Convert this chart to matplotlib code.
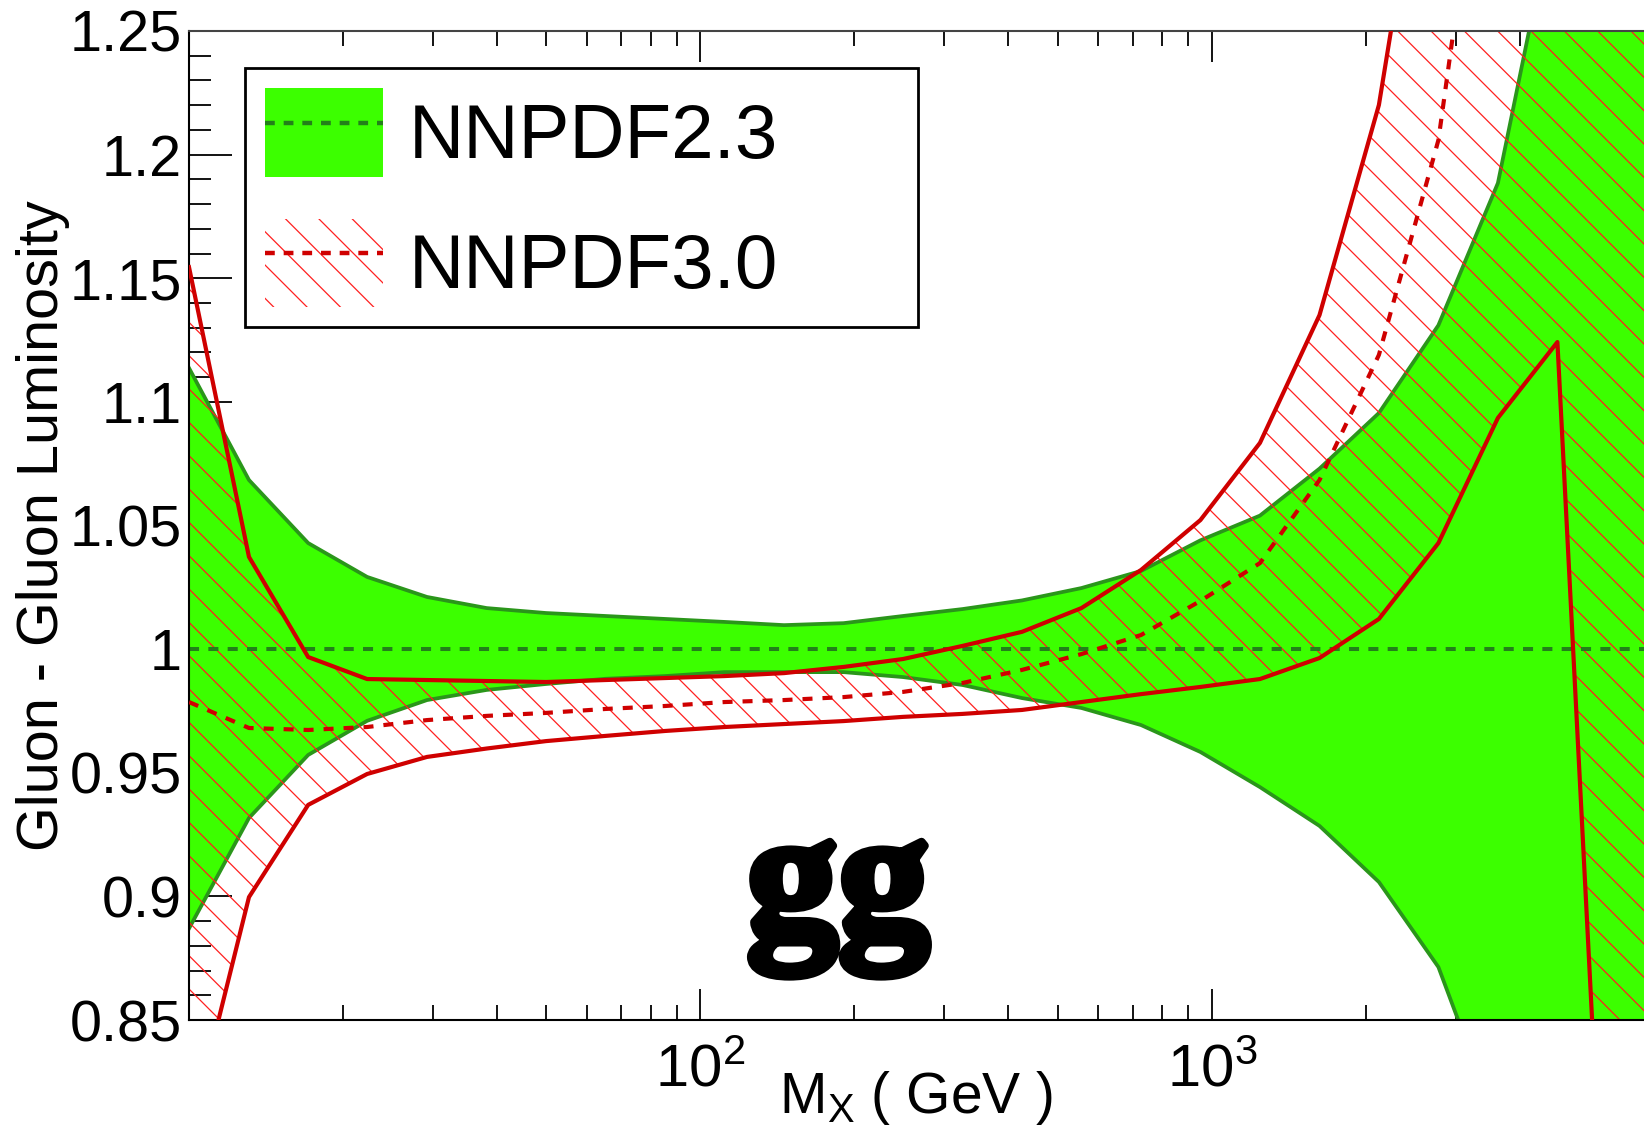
import matplotlib
matplotlib.use("Agg")
import matplotlib.pyplot as plt
from matplotlib.patches import Patch
from matplotlib.lines import Line2D
from matplotlib.ticker import FixedLocator, FixedFormatter, NullFormatter, MultipleLocator, FuncFormatter
import matplotlib.patheffects as pe

plt.rcParams["font.family"] = ["Liberation Sans", "DejaVu Sans"]
plt.rcParams["mathtext.fontset"] = "custom"
plt.rcParams["mathtext.rm"] = "Liberation Sans"
plt.rcParams["mathtext.it"] = "Liberation Sans:italic"
plt.rcParams["mathtext.bf"] = "Liberation Sans:bold"
plt.rcParams["hatch.linewidth"] = 0.9

# Invariant mass grid (GeV)
mass = [10.0, 13.1, 17.1, 22.3, 29.2, 38.2, 49.9, 65.2, 85.3, 111.5, 145.7,
        190.5, 249.0, 325.5, 425.5, 556.0, 727.0, 950.0, 1242.0, 1624.0,
        2122.0, 2774.0, 3626.0, 4740.0, 6196.0, 8100.0]

# NNPDF2.3 band (ratio to its own central value)
nn23_central = 1.0
nn23_hi = [1.1137, 1.0684, 1.0429, 1.0292, 1.0211, 1.0166, 1.0146, 1.0134,
           1.0122, 1.0110, 1.0097, 1.0105, 1.0134, 1.0162, 1.0197, 1.0247,
           1.0316, 1.0440, 1.0540, 1.0730, 1.0955, 1.1310, 1.1885, 1.3060,
           1.4200, 1.5500]
nn23_lo = [0.8870, 0.9317, 0.9572, 0.9710, 0.9794, 0.9835, 0.9859, 0.9880,
           0.9891, 0.9907, 0.9907, 0.9907, 0.9887, 0.9855, 0.9802, 0.9762,
           0.9693, 0.9584, 0.9442, 0.9285, 0.9058, 0.8714, 0.8070, 0.7200,
           0.6000, 0.5000]

# NNPDF3.0 band
nn30_hi = [1.1545, 1.0373, 0.9968, 0.9879, 0.9875, 0.9871, 0.9867, 0.9875,
           0.9883, 0.9891, 0.9903, 0.9928, 0.9960, 1.0013, 1.0070, 1.0166,
           1.0320, 1.0522, 1.0834, 1.1351, 1.2201, 1.3680, 1.5000, 1.6000,
           1.7000, 1.8000]
nn30_lo = [0.8020, 0.8997, 0.9370, 0.9495, 0.9564, 0.9598, 0.9628, 0.9649,
           0.9669, 0.9685, 0.9697, 0.9709, 0.9726, 0.9738, 0.9754, 0.9786,
           0.9818, 0.9847, 0.9879, 0.9964, 1.0122, 1.0429, 1.0935, 1.1242,
           0.6540, 0.4500]
nn30_cv = [0.9786, 0.9681, 0.9673, 0.9685, 0.9713, 0.9730, 0.9742, 0.9758,
           0.9770, 0.9786, 0.9794, 0.9806, 0.9827, 0.9863, 0.9916, 0.9980,
           1.0057, 1.0195, 1.0348, 1.0684, 1.1190, 1.2059, 1.3800, 1.5000,
           1.3000, 1.2000]

x_major = [100, 1000]
x_major_labels = ["$10^{2}$", "$10^{3}$"]
x_minor = [20, 30, 40, 50, 60, 70, 80, 90,
           200, 300, 400, 500, 600, 700, 800, 900,
           2000, 3000, 4000, 5000, 6000]
y_major = [0.85, 0.90, 0.95, 1.00, 1.05, 1.10, 1.15, 1.20, 1.25]

GREEN = "#3cff00"
GREEN_EDGE = "#2a961a"
GREEN_DASH = "#23801a"
RED = "#cf0000"
HATCH_RED = "#ff2020"

W, H = 1644, 1129
fig = plt.figure(figsize=(W / 100, H / 100), dpi=100)
ax = fig.add_axes([189 / W, 1 - 1020 / H, 1 - 189 / W, (1020 - 31) / H])
ax.set_xscale("log")
ax.set_xlim(10, 7000)
ax.set_ylim(0.85, 1.25)

# NNPDF2.3 band
ax.fill_between(mass, nn23_lo, nn23_hi, facecolor=GREEN, edgecolor="none",
                linewidth=0, zorder=2)
ax.plot(mass, nn23_hi, color=GREEN_EDGE, lw=2.7, zorder=2.1)
ax.plot(mass, nn23_lo, color=GREEN_EDGE, lw=2.7, zorder=2.1)

# NNPDF3.0 hatched band
ax.fill_between(mass, nn30_lo, nn30_hi, facecolor="none", edgecolor=HATCH_RED,
                hatch="\\", linewidth=0, zorder=2.2)
ax.axhline(nn23_central, color=GREEN_DASH, lw=2.9, ls=(0, (2.5, 2.3)), zorder=2.3)
ax.plot(mass, nn30_hi, color=RED, lw=3.0, zorder=3)
ax.plot(mass, nn30_lo, color=RED, lw=3.0, zorder=3)
ax.plot(mass, nn30_cv, color=RED, lw=3.0, ls=(0, (2.4, 2.4)), zorder=3)

# Axes styling
ax.spines["right"].set_visible(False)
for s in ("left", "bottom", "top"):
    ax.spines[s].set_linewidth(1.5)
    ax.spines[s].set_color("black")
ax.spines["top"].set_color("#444444")

ax.xaxis.set_major_locator(FixedLocator(x_major))
ax.xaxis.set_major_formatter(FixedFormatter(x_major_labels))
ax.xaxis.set_minor_locator(FixedLocator(x_minor))
ax.xaxis.set_minor_formatter(NullFormatter())
ax.yaxis.set_major_locator(FixedLocator(y_major))
ax.yaxis.set_minor_locator(MultipleLocator(0.01))
ax.yaxis.set_major_formatter(FuncFormatter(lambda v, p: f"{v:g}"))

ax.tick_params(axis="x", which="both", direction="in", top=True, bottom=True,
               width=1.3, colors="black")
ax.tick_params(axis="x", which="major", length=22, labelsize=43, pad=17)
ax.tick_params(axis="x", which="minor", length=11)
ax.tick_params(axis="y", which="both", direction="in", left=True, right=False,
               width=1.3)
ax.tick_params(axis="y", which="major", length=31, labelsize=41.5, pad=5)
ax.tick_params(axis="y", which="minor", length=16)

ax.set_xlabel("M$_{\\rm X}$ ( GeV )", fontsize=41)
ax.xaxis.set_label_coords(0.5, -0.05)
ax.set_ylabel("Gluon - Gluon Luminosity", fontsize=41.5)
ax.yaxis.set_label_coords(-0.0815, 0.5)

# Channel tag
fig.text(838 / W, 1 - 936 / H, "gg", ha="center", va="baseline",
         fontsize=132, fontweight="bold", family="Liberation Serif",
         path_effects=[pe.withStroke(linewidth=6, foreground="black")],
         zorder=10)

# Legend
h23 = (Patch(facecolor=GREEN, edgecolor="none", linewidth=0),
       Line2D([], [], color=GREEN_DASH, lw=3.2, ls=(0, (2.2, 2.0))))
h30 = (Patch(facecolor="none", edgecolor=HATCH_RED, hatch="\\", linewidth=0),
       Line2D([], [], color=RED, lw=3.2, ls=(0, (2.2, 2.0))))
leg = ax.legend([h23, h30], ["NNPDF2.3", "NNPDF3.0"], loc="upper left",
                bbox_to_anchor=(245 / W, 1 - 328 / H, 673 / W, 260 / H),
                bbox_transform=fig.transFigure, mode="expand", borderaxespad=0,
                fontsize=55, handlelength=1.55, handleheight=1.41,
                handletextpad=0.33, labelspacing=0.55, borderpad=0.26,
                fancybox=False, framealpha=1, edgecolor="black")
leg.get_frame().set_linewidth(2.0)
leg.set_zorder(20)

fig.savefig("out.png", dpi=100)
